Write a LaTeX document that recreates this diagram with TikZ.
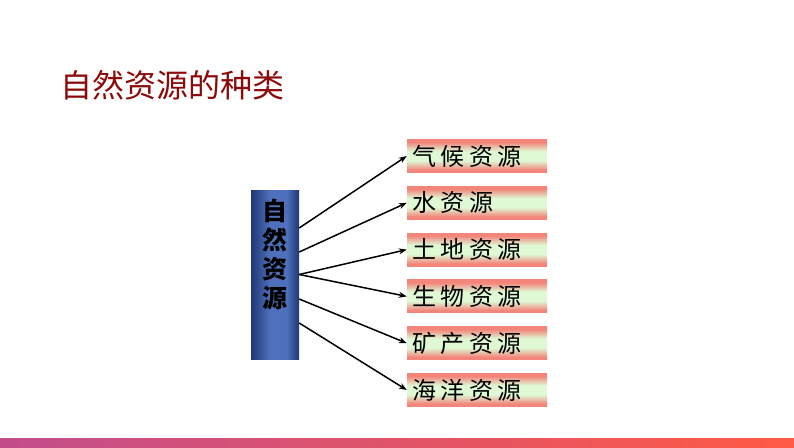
\documentclass[tikz,border=0pt]{standalone}
\usepackage{fontspec}
\usepackage{tikz}
\usetikzlibrary{arrows.meta,positioning}
\newfontfamily\cjk{Noto Sans CJK SC}
\newcommand{\ls}{\hspace{4.5pt}}
\definecolor{titlered}{HTML}{8B0A0A}
\definecolor{barblue}{HTML}{1F3672}
\definecolor{barlight}{HTML}{4F71BD}
\definecolor{boxred}{HTML}{F3857A}
\definecolor{boxgreen}{HTML}{DEF9D4}
\pgfdeclareverticalshading{kindshade}{100bp}{color(0bp)=(boxred); color(25bp)=(boxred); color(29bp)=(boxred); color(43bp)=(boxgreen); color(57bp)=(boxgreen); color(71bp)=(boxred); color(75bp)=(boxred); color(100bp)=(boxred)}
\pgfdeclarehorizontalshading{barshade}{100bp}{color(0bp)=(barblue); color(25bp)=(barblue); color(45bp)=(barlight); color(62bp)=(barlight); color(75bp)=(barblue); color(100bp)=(barblue)}

\begin{document}
\begin{tikzpicture}[x=1pt, y=-1pt, node distance={46.8pt},
  bar/.style = {shading=barshade, minimum width=48pt, minimum height=169pt, inner sep=0pt},
  bartext/.style = {font=\cjk\bfseries\fontsize{25}{29}\selectfont, align=center, inner sep=0pt},
  kind/.style = {shading=kindshade, text width=130pt, align=left, inner xsep=5pt, minimum height=33pt, font=\cjk\fontsize{24}{24}\selectfont},
  arr/.style = {-{Stealth[length=8pt,width=6pt]}, line width=1.5pt}]
\useasboundingbox (0,0) rectangle (794,447);
\node[font=\cjk\fontsize{32}{32}\selectfont, text=titlered, anchor=west] (title) at (57,85) {自然资源的种类};
\node[bar] (bar) at (275,274.5) {};
\node[bartext, anchor=north] (bartxt) at ([yshift=-9pt]bar.north) {自\\然\\资\\源};
\node[kind] (k1) at (477,156) {气\ls 候\ls 资\ls 源};
\node[kind] (k2) [below of=k1] {水\ls 资\ls 源};
\node[kind] (k3) [below of=k2] {土\ls 地\ls 资\ls 源};
\node[kind] (k4) [below of=k3] {生\ls 物\ls 资\ls 源};
\node[kind] (k5) [below of=k4] {矿\ls 产\ls 资\ls 源};
\node[kind] (k6) [below of=k5] {海\ls 洋\ls 资\ls 源};
\draw[arr] ([yshift=46.5pt]bar.east) -- (k1.west);
\draw[arr] ([yshift=22.5pt]bar.east) -- (k2.west);
\draw[arr] (bar.east) -- (k3.west);
\draw[arr] (bar.east) -- (k4.west);
\draw[arr] ([yshift=-24.5pt]bar.east) -- (k5.west);
\draw[arr] ([yshift=-48.5pt]bar.east) -- (k6.west);
\fill[left color={rgb,255:red,194;green,77;blue,140}, right color={rgb,255:red,255;green,90;blue,69}] (0,438) rectangle (794,447);
\end{tikzpicture}
\end{document}
